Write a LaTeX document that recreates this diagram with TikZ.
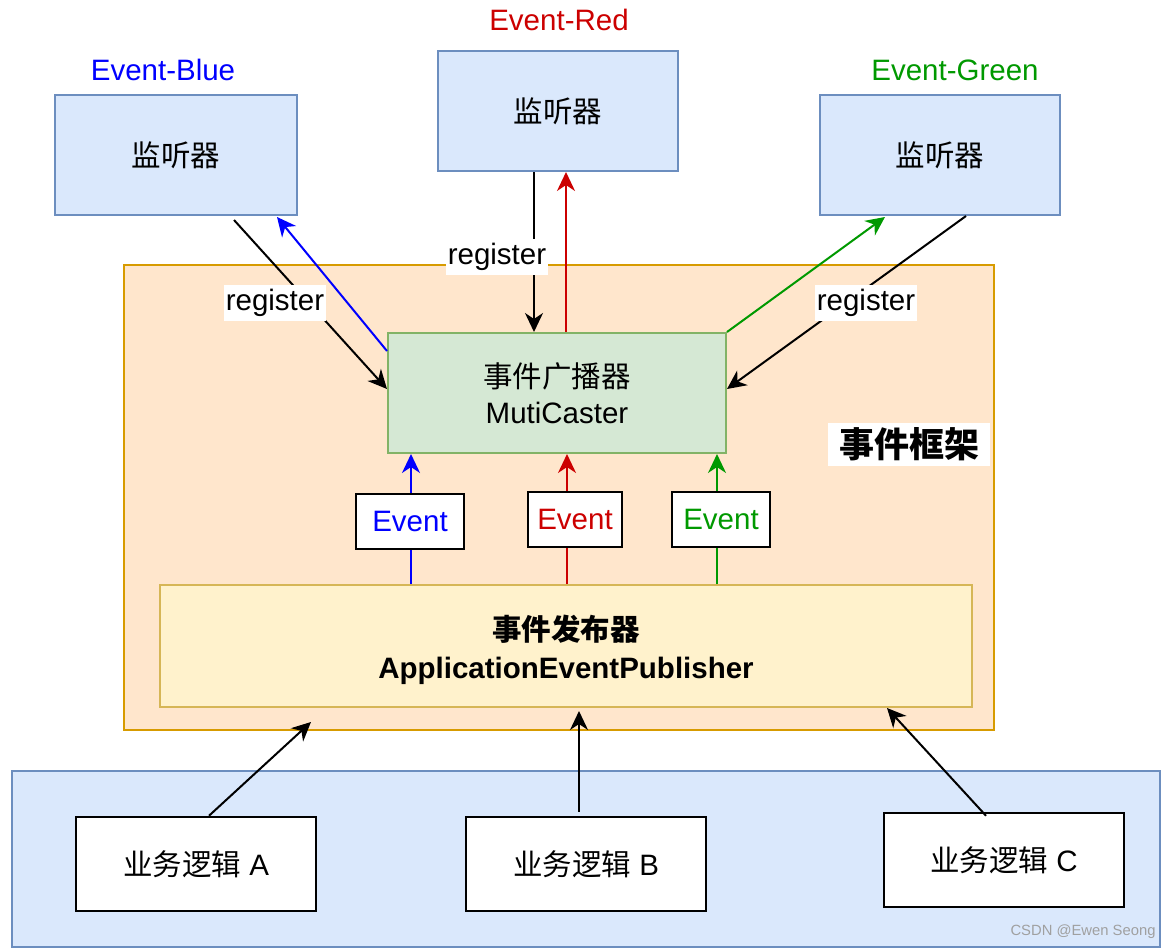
\documentclass[tikz,border=0pt]{standalone}
\usepackage{fontspec}
\setmainfont{Liberation Sans}
\newfontfamily\cjk{Noto Sans CJK SC}
\usetikzlibrary{arrows.meta,calc}
\definecolor{lfill}{HTML}{DAE8FC}
\definecolor{ldraw}{HTML}{6C8EBF}
\definecolor{ofill}{HTML}{FFE6CC}
\definecolor{odraw}{HTML}{D79B00}
\definecolor{gfill}{HTML}{D5E8D4}
\definecolor{gdraw}{HTML}{82B366}
\definecolor{yfill}{HTML}{FFF2CC}
\definecolor{ydraw}{HTML}{D6B656}
\definecolor{eblue}{HTML}{0000FF}
\definecolor{ered}{HTML}{CC0000}
\definecolor{egreen}{HTML}{009900}
\definecolor{wmark}{HTML}{A0A0A0}
\tikzset{
  listener/.style={draw=ldraw, fill=lfill, line width=2pt, minimum width=240pt, minimum height=120pt, inner sep=0pt},
  bizbox/.style={draw=black, fill=white, line width=2.5pt, minimum width=240pt, minimum height=94pt, inner sep=0pt},
  evbox/.style={draw=black, fill=white, line width=2.5pt, minimum height=55pt, inner sep=0pt},
  reglbl/.style={fill=white, inner xsep=2pt, inner ysep=0pt, minimum height=36pt},
  conn/.style={line width=2pt, -{Stealth[length=19pt,width=18pt,inset=6pt]}},
  toplbl/.style={inner sep=0pt}
}
\begin{document}
\begin{tikzpicture}[x=1pt,y=-1pt,font=\fontsize{29.5}{36}\selectfont]
\useasboundingbox (0,0) rectangle (1172,950);
\fill[white] (0,0) rectangle (1172,950);

% framework container
\node[draw=odraw, fill=ofill, line width=2pt, minimum width=870pt, minimum height=465pt, inner sep=0pt] (fw) at (559,497.5) {};
% bottom container
\node[draw=ldraw, fill=lfill, line width=2pt, minimum width=1148pt, minimum height=176pt, inner sep=0pt] (biz) at (586,859) {};

% listeners
\node[listener, minimum width=242pt] (lb) at (176,155) {{\cjk 监听器}};
\node[listener] (lr) at (558,111) {{\cjk 监听器}};
\node[listener] (lg) at (940,155) {{\cjk 监听器}};
\node[toplbl, text=eblue] (tb) at (163,70) {Event-Blue};
\node[toplbl, text=ered] (tr) at (559,20) {Event-Red};
\node[toplbl, text=egreen] (tg) at (955,70) {Event-Green};

% multicaster
\node[draw=gdraw, fill=gfill, line width=2pt, minimum width=338pt, minimum height=120pt, inner sep=0pt, align=center] (mc) at (557,393) {{\cjk 事件广播器}\\MutiCaster};
% framework label
\node[fill=white, minimum width=162pt, minimum height=43pt, inner sep=0pt, font=\fontsize{35}{40}\selectfont\bfseries] (fwl) at (909,444) {{\cjk\bfseries 事件框架}};

% publisher
\node[draw=ydraw, fill=yfill, line width=2pt, minimum width=812pt, minimum height=122pt, inner sep=0pt] (pub) at (566,646) {};
\node[inner sep=0pt, align=center, font=\fontsize{29.5}{38}\selectfont\bfseries] (pubtxt) at ($(pub.center)+(0,4)$) {{\cjk\bfseries 事件发布器}\\ApplicationEventPublisher};

% business boxes
\node[bizbox] (ba) at (196,864) {{\cjk 业务逻辑} A};
\node[bizbox] (bb) at (586,864) {{\cjk 业务逻辑} B};
\node[bizbox] (bc) at (1004,860) {{\cjk 业务逻辑} C};

% event connectors publisher -> multicaster
\draw[conn, eblue] ($(pub.north)+(-155,0)$) -- ($(mc.south)+(-146,0)$);
\draw[conn, ered] ($(pub.north)+(1,0)$) -- ($(mc.south)+(10,0)$);
\draw[conn, egreen] ($(pub.north)+(151,0)$) -- ($(mc.south)+(160,0)$);
\node[evbox, minimum width=108pt, text=eblue] (evb) at (410,521.5) {Event};
\node[evbox, minimum width=94pt, text=ered] (evr) at (575,519.5) {Event};
\node[evbox, minimum width=98pt, text=egreen] (evg) at (721,519.5) {Event};

% blue listener
\coordinate (rbs) at ($(lb.south)+(58,4)$);
\draw[conn] (rbs) -- ($(mc.north west)+(0,57)$);
\draw[conn, eblue] ($(mc.north west)+(0,19)$) -- ($(lb.south east)+(-21,1)$);
\node[reglbl] (regb) at (275,303) {register};

% red listener
\draw[conn] ($(lr.south)+(-24,0)$) -- ($(mc.north)+(-23,0)$);
\draw[conn, ered] ($(mc.north)+(9,0)$) -- ($(lr.south)+(8,0)$);
\node[reglbl] (regr) at (497,257) {register};

% green listener
\draw[conn, egreen] (mc.north east) -- ($(lg.south west)+(66,1)$);
\draw[conn] ($(lg.south west)+(147,0)$) -- ($(mc.north east)+(0,57)$);
\node[reglbl] (regg) at (866,303) {register};

% business -> publisher
\coordinate (ta) at (311,722);
\coordinate (tbb) at (579,711);
\coordinate (tc) at (887,708);
\draw[conn] ($(ba.north)+(13,0)$) -- (ta);
\draw[conn] ($(bb.north)+(-7,-4)$) -- (tbb);
\draw[conn] ($(bc.north)+(-18,4)$) -- (tc);

% watermark
\node[text=wmark, inner sep=0pt, font=\fontsize{14.8}{16}\selectfont] (wm) at (1083,932) {CSDN @Ewen Seong};
\end{tikzpicture}
\end{document}
